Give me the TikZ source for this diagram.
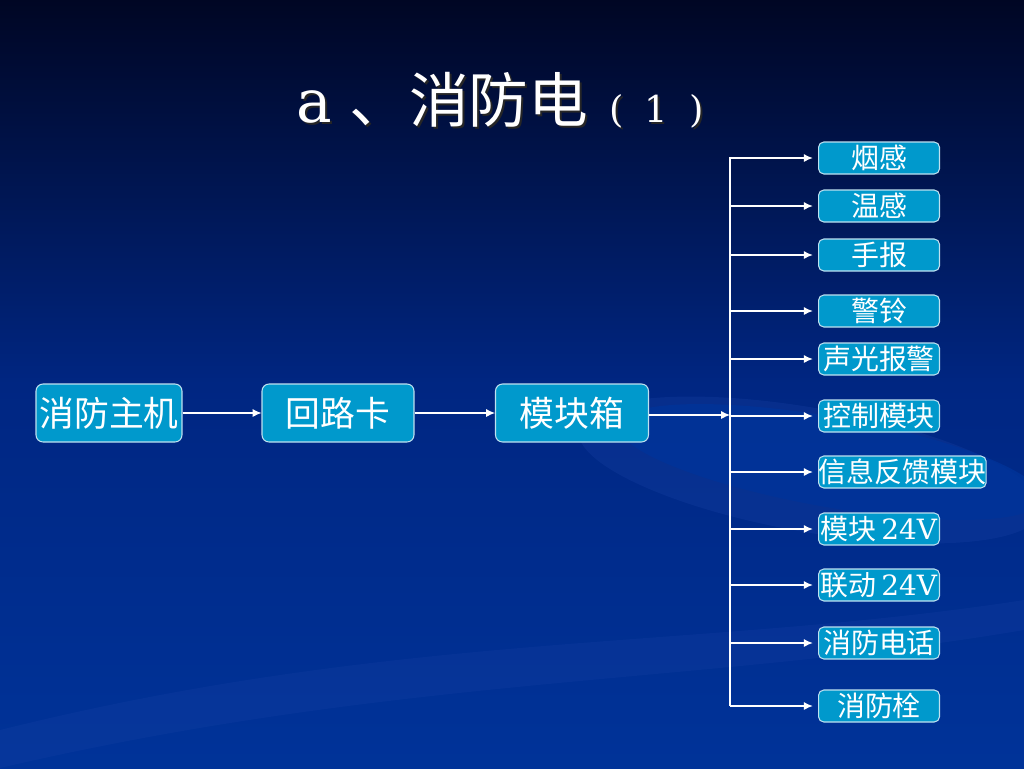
\documentclass[tikz,border=0pt]{standalone}
\usepackage{fontspec}
\setmainfont{DejaVu Serif}
\newfontfamily\cjk{Noto Sans CJK SC}
\usetikzlibrary{arrows.meta, positioning}

\definecolor{boxblue}{RGB}{0,153,204}
\definecolor{boxline}{RGB}{190,225,240}
\definecolor{bgtop}{RGB}{0,6,36}
\definecolor{bgmid}{RGB}{0,38,130}
\definecolor{bgbot}{RGB}{0,51,153}
\definecolor{swirl}{RGB}{30,70,170}

\begin{document}
\begin{tikzpicture}[
    x=0.02cm, y=-0.02cm,
    >={Latex[length=5pt,width=4.5pt]},
    mainbox/.style={draw=boxline, line width=0.6pt, fill=boxblue, rounded corners=4pt,
        minimum width=2.92cm, minimum height=1.16cm, inner sep=0pt, text=white,
        font=\cjk\fontsize{19.8}{22}\selectfont},
    subbox/.style={draw=boxline, line width=0.6pt, fill=boxblue, rounded corners=3pt,
        minimum width=2.42cm, minimum height=0.64cm, inner sep=0pt, text=white,
        anchor=west, font=\fontsize{15.9}{18}\selectfont},
    link/.style={->, white, line width=0.6pt}
]

% --- Background (gradient with faint swirls) ---
\useasboundingbox (0,0) rectangle (1024,768);
\clip (0,0) rectangle (1024,768);
\shade[top color=bgtop, bottom color=bgbot, middle color=bgmid] (0,0) rectangle (1024,768);
\fill[swirl, opacity=0.25, rotate around={-10:(810,470)}] (810,470) ellipse (235 and 62);
\fill[bgbot, opacity=0.8, rotate around={-10:(830,462)}] (830,462) ellipse (215 and 45);
\fill[swirl, opacity=0.2] (0,730) .. controls (400,630) and (700,650) .. (1024,600)
    -- (1024,630) .. controls (700,685) and (400,675) .. (0,768) -- cycle;

% --- Title (with drop shadow) ---
\node[anchor=base west, text=black!85] at (292,124)
    {\fontsize{34}{40}\selectfont a\hspace{10pt}{\cjk 、消防电}\fontsize{21}{24}\selectfont\hspace{12pt}(\hspace{12pt}1\hspace{12pt})};
\node[anchor=base west, text=white] (title) at (290,122)
    {\fontsize{34}{40}\selectfont a\hspace{10pt}{\cjk 、消防电}\fontsize{21}{24}\selectfont\hspace{12pt}(\hspace{12pt}1\hspace{12pt})};

% --- Main chain ---
\node[mainbox] (host) at (109,413) {消防主机};
\node[mainbox, minimum width=3.04cm] (loop) at (338,413) {回路卡};
\node[mainbox, minimum width=3.06cm] (cabinet) at (572,413) {模块箱};

\coordinate (bustop) at (730,157);
\coordinate (busmid) at (730,415);
\coordinate (busbot) at (730,706);

\draw[link] (host) -- (loop);
\draw[link] (loop) -- (cabinet);
\draw[link] (cabinet.east |- busmid) -- (busmid);
\draw[white, line width=0.6pt] (bustop) -- (busbot);

% --- Branch outputs ---
\foreach \name/\ypos/\txt in {
    smoke/158/{\cjk 烟感},
    heat/206/{\cjk 温感},
    manual/255/{\cjk 手报},
    bell/311/{\cjk 警铃},
    strobe/359/{\cjk 声光报警},
    ctrl/416/{\cjk 控制模块},
    feedback/472/{\cjk 信息反馈模块},
    modpower/529/{{\cjk 模块}\,24V},
    linkpower/585/{{\cjk 联动}\,24V},
    phone/643/{\cjk 消防电话},
    hydrant/706/{\cjk 消防栓}} {
  \node[subbox] (\name) at (818,\ypos) {\txt};
  \coordinate (\name-tap) at (730,\ypos);
  \draw[link, shorten >=3pt] (\name-tap) -- (\name.west);
}

\end{tikzpicture}
\end{document}
